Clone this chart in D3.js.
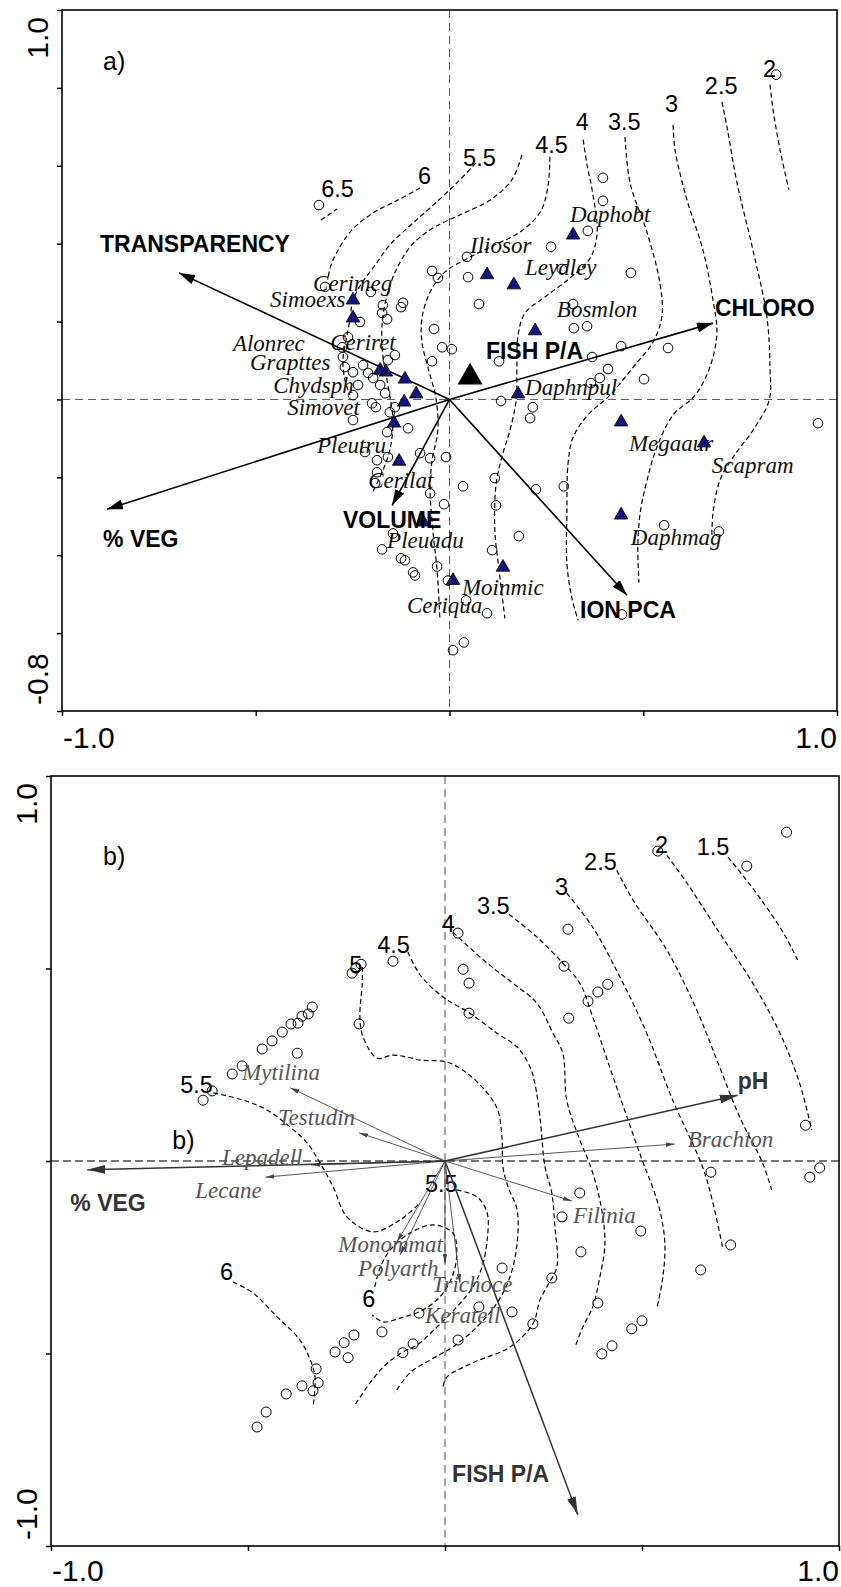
<!DOCTYPE html>
<html>
<head>
<meta charset="utf-8">
<script src="https://cdn.jsdelivr.net/npm/d3@7"></script>
<style>
  body { margin: 0; background: #fff; }
  .sans { font-family: "Liberation Sans", Arial, sans-serif; }
  .serif { font-family: "Liberation Serif", "Times New Roman", serif; font-style: italic; }
</style>
</head>
<body>
<svg id="chart" width="841" height="1587"></svg>
<script>
// ---------- panel a data (axis 1 / axis 2 scores) ----------
var aSites = [
  [-0.337,0.499],[0.843,0.834],[0.396,0.569],[0.396,0.510],[0.357,0.433],[0.262,0.392],
  [0.045,0.366],[-0.045,0.330],[-0.030,0.312],[0.048,0.314],[0.468,0.325],[0.290,0.335],
  [0.076,0.245],[0.319,0.245],[0.321,0.183],[0.355,0.188],[-0.040,0.181],[-0.019,0.134],
  [0.006,0.129],[-0.045,0.098],[0.128,0.098],[0.368,0.109],[0.443,0.137],[0.564,0.132],
  [0.409,0.078],[0.388,0.055],[0.365,0.042],[0.502,0.052],[0.133,-0.004],[0.215,-0.020],
  [0.208,-0.048],[0.951,-0.061],[-0.321,0.289],[-0.203,0.276],[-0.172,0.242],[-0.120,0.248],
  [-0.125,0.237],[-0.174,0.222],[-0.161,0.206],[-0.231,0.199],[-0.277,0.134],[-0.262,0.160],
  [-0.275,0.109],[-0.141,0.114],[-0.159,0.101],[-0.270,0.083],[-0.249,0.070],[-0.223,0.088],
  [-0.210,0.068],[-0.197,0.055],[-0.179,0.037],[-0.166,0.016],[-0.236,0.037],[-0.249,0.011],
  [-0.200,-0.010],[-0.190,-0.020],[-0.154,-0.033],[-0.141,-0.020],[-0.249,-0.053],[-0.161,-0.084],
  [-0.107,-0.074],[-0.218,-0.135],[-0.187,-0.156],[-0.159,-0.148],[-0.076,-0.138],[-0.050,-0.151],
  [-0.009,-0.148],[-0.187,-0.187],[-0.192,-0.215],[0.035,-0.223],[-0.050,-0.241],[-0.014,-0.269],
  [0.117,-0.202],[0.120,-0.272],[0.223,-0.231],[0.295,-0.223],[-0.146,-0.344],[-0.174,-0.385],
  [-0.125,-0.408],[-0.115,-0.413],[-0.094,-0.444],[-0.089,-0.452],[-0.032,-0.429],[-0.004,-0.465],
  [0.110,-0.387],[0.179,-0.351],[0.043,-0.516],[0.097,-0.549],[0.037,-0.624],[0.009,-0.644],
  [0.554,-0.323],[0.695,-0.339],[0.445,-0.552]
];

var aSpecies = ["Cerimeg","Simoexs","Alonrec","Ceriret","Grapttes","Chydsph","Simovet","Pleutru",
  "Cerilat","Pleuadu","Ceriqua","Moinmic","Daphobt","Iliosor","Leydley","Bosmlon","Daphnpul",
  "Megaaur","Scapram","Daphmag"];
var aSpeciesX = [-0.249,-0.249,-0.164,-0.179,-0.115,-0.086,-0.117,-0.143,-0.130,-0.068,0.009,0.138,
  0.319,0.097,0.166,0.221,0.177,0.443,0.657,0.443];
var aSpeciesY = [0.255,0.209,0.070,0.075,0.052,0.014,-0.007,-0.061,-0.159,-0.315,-0.465,-0.431,
  0.422,0.320,0.294,0.176,0.014,-0.058,-0.112,-0.297];
var aSpeciesLabelX = [-0.352,-0.463,-0.559,-0.308,-0.515,-0.455,-0.419,-0.342,-0.210,-0.161,-0.110,
  0.032,0.311,0.053,0.195,0.277,0.195,0.463,0.677,0.468];
var aSpeciesLabelY = [0.278,0.237,0.124,0.127,0.075,0.016,-0.040,-0.138,-0.228,-0.382,-0.549,
  -0.503,0.456,0.376,0.320,0.212,0.011,-0.133,-0.189,-0.375];

var aEnv = ["TRANSPARENCY","CHLORO","% VEG","VOLUME","ION PCA"];
var aEnvX = [-0.698,0.680,-0.884,-0.148,0.458];
var aEnvY = [0.325,0.196,-0.282,-0.272,-0.503];
var aEnvLabelX = [-0.902,0.685,-0.894,-0.275,0.337];
var aEnvLabelY = [0.379,0.214,-0.380,-0.331,-0.562];

var aFish = [0.053,0.057];
var aFishLabel = [0.094,0.104];

var aContourLevels = ["6.5","6","5.5","5","4.5","4","3.5","3","2.5","2"];
var aContourLabelXY = [[-0.331,0.520],[-0.081,0.552],[0.035,0.600],null,[0.221,0.633],
  [0.326,0.692],[0.409,0.692],[0.556,0.738],[0.659,0.784],[0.809,0.828]];
var aContours = [
  [[-0.332,0.461],[-0.290,0.489]],
  [[-0.076,0.543],[-0.133,0.512],[-0.197,0.479],[-0.252,0.435],[-0.290,0.379],[-0.308,0.338],[-0.314,0.307]],
  [[0.068,0.607],[0.014,0.551],[-0.050,0.492],[-0.102,0.446],[-0.154,0.397],[-0.192,0.345],[-0.226,0.299],
   [-0.249,0.255],[-0.257,0.204],[-0.267,0.152],[-0.275,0.101],[-0.270,0.050],[-0.257,0.011]],
  [[0.187,0.628],[0.161,0.564],[0.105,0.512],[0.027,0.474],[-0.043,0.440],[-0.097,0.397],[-0.135,0.338],
   [-0.161,0.268],[-0.174,0.191],[-0.172,0.114],[-0.159,0.037],[-0.146,-0.053],[-0.154,-0.130],
   [-0.174,-0.187],[-0.200,-0.241]],
  [[0.259,0.623],[0.254,0.546],[0.234,0.481],[0.182,0.430],[0.117,0.397],[0.048,0.363],[-0.012,0.327],
   [-0.050,0.276],[-0.071,0.209],[-0.071,0.147],[-0.055,0.080],[-0.035,0.003],[-0.030,-0.079],
   [-0.045,-0.156],[-0.050,-0.233],[-0.043,-0.336],[-0.032,-0.439],[-0.025,-0.560]],
  [[0.345,0.667],[0.355,0.602],[0.368,0.538],[0.381,0.428],[0.363,0.363],[0.311,0.312],[0.246,0.263],
   [0.195,0.222],[0.177,0.165],[0.174,0.083],[0.172,-0.002],[0.156,-0.079],[0.135,-0.148],
   [0.120,-0.220],[0.117,-0.336],[0.128,-0.439],[0.143,-0.562]],
  [[0.453,0.674],[0.466,0.556],[0.510,0.428],[0.543,0.299],[0.548,0.212],[0.525,0.147],[0.474,0.083],
   [0.414,0.011],[0.357,-0.040],[0.319,-0.097],[0.306,-0.164],[0.303,-0.292],[0.303,-0.421],
   [0.316,-0.511],[0.332,-0.567]],
  [[0.577,0.705],[0.582,0.641],[0.613,0.512],[0.654,0.384],[0.680,0.255],[0.690,0.170],[0.672,0.083],
   [0.634,0.011],[0.577,-0.040],[0.535,-0.123],[0.510,-0.207],[0.492,-0.292],[0.486,-0.380],[0.489,-0.470]],
  [[0.703,0.764],[0.716,0.700],[0.742,0.556],[0.783,0.384],[0.819,0.212],[0.827,0.083],[0.825,-0.002],
   [0.783,-0.079],[0.732,-0.148],[0.698,-0.207],[0.680,-0.292],[0.677,-0.354]],
  [[0.827,0.808],[0.835,0.744],[0.853,0.641],[0.876,0.538]]
];

// ---------- panel b data ----------
var bSites = [
  [-0.236,0.488],[-0.226,0.501],[-0.213,0.511],[-0.132,0.519],[-0.218,0.356],[-0.337,0.400],
  [-0.347,0.382],[-0.363,0.376],[-0.373,0.358],[-0.391,0.356],[-0.413,0.335],[-0.439,0.312],
  [-0.464,0.291],[-0.515,0.247],[-0.540,0.226],[-0.375,0.280],[-0.591,0.182],[-0.614,0.158],
  [0.867,0.854],[0.766,0.766],[0.540,0.805],[0.033,0.592],[0.312,0.602],[0.046,0.498],
  [0.061,0.462],[0.302,0.506],[0.413,0.459],[0.388,0.439],[0.363,0.415],[0.061,0.384],
  [0.314,0.371],[0.915,0.093],[0.675,-0.029],[0.951,-0.018],[0.926,-0.042],[0.342,-0.083],
  [0.297,-0.145],[0.497,-0.182],[0.725,-0.218],[0.345,-0.236],[0.649,-0.283],[0.145,-0.278],
  [0.271,-0.304],[0.388,-0.369],[0.086,-0.379],[0.170,-0.392],[0.500,-0.415],[0.474,-0.436],
  [0.223,-0.423],[0.033,-0.465],[0.424,-0.480],[0.398,-0.501],[-0.066,-0.395],[-0.160,-0.444],
  [-0.231,-0.452],[-0.256,-0.472],[-0.081,-0.475],[-0.279,-0.496],[-0.246,-0.511],[-0.107,-0.498],
  [-0.327,-0.540],[-0.322,-0.576],[-0.335,-0.597],[-0.363,-0.584],[-0.403,-0.605],[-0.454,-0.652],
  [-0.477,-0.691]
];

var bSpecies = ["Mytilina","Testudin","Lepadell","Lecane","Brachion","Filinia","Monommat",
  "Polyarth","Keratell","Trichoce"];
var bSpeciesX = [-0.393,-0.218,-0.340,-0.456,0.583,0.322,-0.122,-0.114,0.000,0.038];
var bSpeciesY = [0.190,0.073,-0.010,-0.042,0.044,-0.104,-0.210,-0.244,-0.265,-0.317];
var bSpeciesLabelX = [-0.515,-0.424,-0.566,-0.634,0.616,0.325,-0.271,-0.221,-0.051,-0.033];
var bSpeciesLabelY = [0.210,0.093,-0.010,-0.096,0.036,-0.161,-0.236,-0.299,-0.421,-0.340];

var bEnv = ["pH","% VEG","FISH P/A"];
var bEnvX = [0.743,-0.908,0.337];
var bEnvY = [0.171,-0.023,-0.919];
var bEnvLabelX = [0.743,-0.951,0.018];
var bEnvLabelY = [0.187,-0.130,-0.833];

var bContourLevels = ["1.5","2","2.5","3","3.5","4","4.5","5","5.5","5.5","6","6"];
var bContourLabelXY = [[0.639,0.794],[0.533,0.800],[0.353,0.755],[0.279,0.691],[0.081,0.641],
  [-0.008,0.594],[-0.172,0.540],[-0.243,0.488],[-0.672,0.177],[-0.051,-0.080],[-0.571,-0.309],
  [-0.210,-0.379]];
var bContours = [
  [[0.718,0.789],[0.761,0.735],[0.812,0.665],[0.862,0.587],[0.895,0.522]],
  [[0.563,0.794],[0.614,0.722],[0.697,0.592],[0.781,0.462],[0.850,0.332],[0.900,0.202],[0.931,0.080]],
  [[0.436,0.755],[0.477,0.678],[0.563,0.548],[0.639,0.392],[0.697,0.244],[0.748,0.114],[0.806,-0.005],
   [0.829,-0.075]],
  [[0.309,0.696],[0.375,0.607],[0.444,0.478],[0.512,0.332],[0.578,0.158],[0.654,-0.016],[0.680,-0.109],
   [0.705,-0.226]],
  [[0.162,0.641],[0.233,0.582],[0.299,0.514],[0.342,0.462],[0.375,0.374],[0.418,0.244],[0.462,0.114],
   [0.507,-0.016],[0.520,-0.049],[0.545,-0.127],[0.558,-0.213],[0.553,-0.301],[0.538,-0.382]],
  [[0.020,0.594],[0.107,0.514],[0.172,0.462],[0.233,0.410],[0.274,0.332],[0.299,0.280],[0.309,0.158],
   [0.342,0.055],[0.368,-0.010],[0.393,-0.101],[0.406,-0.213],[0.393,-0.301],[0.375,-0.379],
   [0.350,-0.431],[0.330,-0.483]],
  [[-0.094,0.543],[-0.063,0.483],[-0.005,0.426],[0.063,0.384],[0.132,0.332],[0.183,0.296],[0.216,0.244],
   [0.228,0.202],[0.241,0.114],[0.254,-0.016],[0.271,-0.083],[0.279,-0.171],[0.284,-0.275],
   [0.261,-0.322],[0.241,-0.361],[0.223,-0.423],[0.165,-0.483],[0.071,-0.524],[0.005,-0.561],
   [-0.005,-0.587]],
  [[-0.210,0.504],[-0.210,0.462],[-0.216,0.374],[-0.208,0.322],[-0.172,0.267],[-0.134,0.275],
   [-0.096,0.270],[-0.063,0.262],[0.005,0.257],[0.056,0.228],[0.107,0.177],[0.134,0.132],[0.145,0.055],
   [0.147,-0.016],[0.160,-0.067],[0.183,-0.127],[0.183,-0.213],[0.165,-0.301],[0.132,-0.369],
   [0.081,-0.431],[0.020,-0.483],[-0.038,-0.517],[-0.089,-0.550],[-0.127,-0.602]],
  [[-0.588,0.177],[-0.512,0.158],[-0.451,0.132],[-0.393,0.088],[-0.350,0.047],[-0.317,-0.005],
   [-0.284,-0.067],[-0.249,-0.145],[-0.183,-0.184],[-0.114,-0.153],[-0.063,-0.109]],
  [[0.030,-0.075],[0.081,-0.093],[0.107,-0.135],[0.107,-0.205],[0.094,-0.275],[0.071,-0.327],
   [0.030,-0.379],[-0.020,-0.431],[-0.071,-0.478],[-0.107,-0.496],[-0.157,-0.535],[-0.198,-0.587],
   [-0.228,-0.633]],
  [[-0.538,-0.314],[-0.487,-0.343],[-0.426,-0.405],[-0.368,-0.465],[-0.342,-0.517],[-0.330,-0.561],
   [-0.335,-0.641]],
  [[-0.178,-0.327],[-0.165,-0.278],[-0.139,-0.231],[-0.089,-0.187],[-0.030,-0.166],[0.020,-0.187],
   [0.030,-0.239],[0.018,-0.301],[-0.013,-0.353],[-0.056,-0.387],[-0.114,-0.408],[-0.157,-0.418],
   [-0.185,-0.400]]
];

// ---------- axes ----------
var xTicks = [-1, -0.5, 0, 0.5, 1];
var aYTicks = [-0.8, -0.6, -0.4, -0.2, 0, 0.2, 0.4, 0.6, 0.8, 1.0];
var bYTicks = [-1, -0.5, 0, 0.5, 1];
var xTickLabels = ["-1.0", "1.0"];
var aYTickLabels = ["-0.8", "1.0"];
var bYTickLabels = ["-1.0", "1.0"];

var svg = d3.select("#chart");

var defs = svg.append("defs");
function addMarker(id, len, wid, color) {
  defs.append("marker")
      .attr("id", id)
      .attr("viewBox", "0 0 " + len + " " + wid)
      .attr("refX", len)
      .attr("refY", wid / 2)
      .attr("markerWidth", len)
      .attr("markerHeight", wid)
      .attr("markerUnits", "userSpaceOnUse")
      .attr("orient", "auto")
    .append("path")
      .attr("d", "M0,0L" + len + "," + (wid / 2) + "L0," + wid + "z")
      .attr("fill", color);
}
addMarker("headA", 16, 10, "#000");
addMarker("headB", 18, 9, "#333");
addMarker("headS", 9, 4.5, "#444");

function drawFrame(g, x, y, yTicks) {
  var x0 = x.range()[0], x1 = x.range()[1];
  var y0 = y.range()[0], y1 = y.range()[1];

  // dashed zero lines
  g.append("line")
      .attr("x1", x(0)).attr("x2", x(0)).attr("y1", y1).attr("y2", y0)
      .attr("stroke", "#555").attr("stroke-width", 1).attr("stroke-dasharray", "8,5");

  g.append("g")
      .attr("transform", "translate(0," + y0 + ")")
      .call(d3.axisBottom(x).tickValues(xTicks).tickSize(5).tickSizeOuter(0).tickFormat(""))
      .call(function(s) { s.select(".domain").remove(); })
      .selectAll("line").attr("stroke-width", 1.5);

  g.append("g")
      .attr("transform", "translate(" + x0 + ",0)")
      .call(d3.axisLeft(y).tickValues(yTicks).tickSize(5).tickSizeOuter(0).tickFormat(""))
      .call(function(s) { s.select(".domain").remove(); })
      .selectAll("line").attr("stroke-width", 1.5);

  g.append("rect")
      .attr("x", x0).attr("y", y1)
      .attr("width", x1 - x0).attr("height", y0 - y1)
      .attr("fill", "none").attr("stroke", "#000").attr("stroke-width", 1.6);
}

function drawTickLabels(g, x, y, yLabels, yVals, dy) {
  var y0 = y.range()[0];
  g.append("text").attr("class", "sans")
      .attr("x", x(-1) + 1).attr("y", y0 + dy)
      .attr("font-size", 30).text(xTickLabels[0]);
  g.append("text").attr("class", "sans")
      .attr("x", x(1)).attr("y", y0 + dy)
      .attr("text-anchor", "end")
      .attr("font-size", 30).text(xTickLabels[1]);
  g.append("text").attr("class", "sans")
      .attr("transform", "translate(" + (x(-1) - 14) + "," + (y(yVals[0]) - 6) + ") rotate(-90)")
      .attr("font-size", 30).text(yLabels[0]);
  g.append("text").attr("class", "sans")
      .attr("transform", "translate(" + (x(-1) - 14) + "," + (y(yVals[1]) + 7) + ") rotate(-90)")
      .attr("text-anchor", "end")
      .attr("font-size", 30).text(yLabels[1]);
}

function drawContours(g, x, y, paths, levels, labelXY, dash) {
  var line = d3.line()
      .x(function(d) { return x(d[0]); })
      .y(function(d) { return y(d[1]); })
      .curve(d3.curveCatmullRom.alpha(0.5));
  g.selectAll(".contour").data(paths).enter().append("path")
      .attr("class", "contour")
      .attr("d", line)
      .attr("fill", "none")
      .attr("stroke", "#000")
      .attr("stroke-width", 1.2)
      .attr("stroke-dasharray", dash);
  levels.forEach(function(lv, i) {
    if (!labelXY[i]) return;
    g.append("text").attr("class", "sans")
        .attr("x", x(labelXY[i][0])).attr("y", y(labelXY[i][1]))
        .attr("font-size", 23.5).attr("fill", "#000")
        .text(lv);
  });
}

function drawSites(g, x, y, sites, r) {
  g.selectAll(".site").data(sites).enter().append("circle")
      .attr("class", "site")
      .attr("cx", function(d) { return x(d[0]); })
      .attr("cy", function(d) { return y(d[1]); })
      .attr("r", r)
      .attr("fill", "none")
      .attr("stroke", "#000")
      .attr("stroke-width", 1);
}

// =================== PANEL A ===================
var xA = d3.scaleLinear().domain([-1, 1]).range([62, 837]);
var yA = d3.scaleLinear().domain([-0.8, 1]).range([711, 10]);
var gA = svg.append("g");

gA.append("line")
    .attr("x1", xA(-1)).attr("x2", xA(1)).attr("y1", yA(0)).attr("y2", yA(0))
    .attr("stroke", "#555").attr("stroke-width", 1).attr("stroke-dasharray", "8,5");
drawFrame(gA, xA, yA, aYTicks);
drawTickLabels(gA, xA, yA, aYTickLabels, [-0.8, 1.0], 37);

gA.append("text").attr("class", "sans")
    .attr("x", 103).attr("y", 70).attr("font-size", 25).text("a)");

drawContours(gA, xA, yA, aContours, aContourLevels, aContourLabelXY, "5,3");

// species labels (under points)
gA.selectAll(".splab").data(aSpecies).enter().append("text")
    .attr("class", "serif splab")
    .attr("x", function(d, i) { return xA(aSpeciesLabelX[i]); })
    .attr("y", function(d, i) { return yA(aSpeciesLabelY[i]); })
    .attr("font-size", 23)
    .attr("fill", "#111")
    .text(function(d) { return d; });

// environmental arrows
gA.selectAll(".env").data(aEnv).enter().append("line")
    .attr("class", "env")
    .attr("x1", xA(0)).attr("y1", yA(0))
    .attr("x2", function(d, i) { return xA(aEnvX[i]); })
    .attr("y2", function(d, i) { return yA(aEnvY[i]); })
    .attr("stroke", "#000").attr("stroke-width", 1.6)
    .attr("marker-end", "url(#headA)");

drawSites(gA, xA, yA, aSites, 4.8);

gA.selectAll(".tri").data(aSpecies).enter().append("path")
    .attr("class", "tri")
    .attr("d", d3.symbol(d3.symbolTriangle).size(80))
    .attr("transform", function(d, i) {
      return "translate(" + xA(aSpeciesX[i]) + "," + yA(aSpeciesY[i]) + ")";
    })
    .attr("fill", "#14147a").attr("stroke", "#000").attr("stroke-width", 0.8);

gA.append("path")
    .attr("d", d3.symbol(d3.symbolTriangle).size(270))
    .attr("transform", "translate(" + xA(aFish[0]) + "," + yA(aFish[1]) + ")")
    .attr("fill", "#000");

gA.selectAll(".envlab").data(aEnv).enter().append("text")
    .attr("class", "sans envlab")
    .attr("x", function(d, i) { return xA(aEnvLabelX[i]); })
    .attr("y", function(d, i) { return yA(aEnvLabelY[i]); })
    .attr("font-size", 23).attr("font-weight", "bold")
    .text(function(d) { return d; });
gA.append("text").attr("class", "sans")
    .attr("x", xA(aFishLabel[0])).attr("y", yA(aFishLabel[1]))
    .attr("font-size", 23).attr("font-weight", "bold")
    .text("FISH P/A");

// =================== PANEL B ===================
var xB = d3.scaleLinear().domain([-1, 1]).range([51, 839]);
var yB = d3.scaleLinear().domain([-1, 1]).range([1546, 776]);
var gB = svg.append("g");

gB.append("line")
    .attr("x1", xB(-1)).attr("x2", xB(1)).attr("y1", yB(0)).attr("y2", yB(0))
    .attr("stroke", "#777").attr("stroke-width", 2).attr("stroke-dasharray", "8,4");
drawFrame(gB, xB, yB, bYTicks);
drawTickLabels(gB, xB, yB, bYTickLabels, [-1, 1], 35);

gB.append("text").attr("class", "sans")
    .attr("x", 103).attr("y", 865).attr("font-size", 25).text("b)");
gB.append("text").attr("class", "sans")
    .attr("x", xB(-0.692)).attr("y", yB(0.031)).attr("font-size", 25).text("b)");

drawContours(gB, xB, yB, bContours, bContourLevels, bContourLabelXY, "5,3");

drawSites(gB, xB, yB, bSites, 5);

gB.selectAll(".sparrow").data(bSpecies).enter().append("line")
    .attr("class", "sparrow")
    .attr("x1", xB(0)).attr("y1", yB(0))
    .attr("x2", function(d, i) { return xB(bSpeciesX[i]); })
    .attr("y2", function(d, i) { return yB(bSpeciesY[i]); })
    .attr("stroke", "#444").attr("stroke-width", 0.9)
    .attr("marker-end", "url(#headS)");

gB.selectAll(".envb").data(bEnv).enter().append("line")
    .attr("class", "envb")
    .attr("x1", xB(0)).attr("y1", yB(0))
    .attr("x2", function(d, i) { return xB(bEnvX[i]); })
    .attr("y2", function(d, i) { return yB(bEnvY[i]); })
    .attr("stroke", "#333").attr("stroke-width", 1.5)
    .attr("marker-end", "url(#headB)");

gB.selectAll(".splabb").data(bSpecies).enter().append("text")
    .attr("class", "serif splabb")
    .attr("x", function(d, i) { return xB(bSpeciesLabelX[i]); })
    .attr("y", function(d, i) { return yB(bSpeciesLabelY[i]); })
    .attr("font-size", 23)
    .attr("fill", "#555")
    .text(function(d) { return d; });

gB.selectAll(".envlabb").data(bEnv).enter().append("text")
    .attr("class", "sans envlabb")
    .attr("x", function(d, i) { return xB(bEnvLabelX[i]); })
    .attr("y", function(d, i) { return yB(bEnvLabelY[i]); })
    .attr("font-size", 23).attr("font-weight", "bold").attr("fill", "#333")
    .text(function(d) { return d; });
</script>
</body>
</html>
